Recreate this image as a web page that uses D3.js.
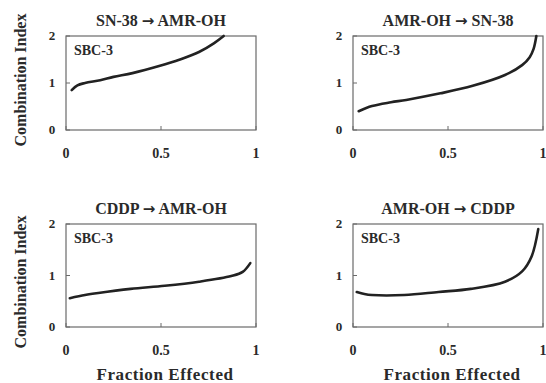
<!DOCTYPE html>
<html>
<head>
<meta charset="utf-8">
<script src="https://cdn.jsdelivr.net/npm/d3@7"></script>
<style>
  body { margin: 0; background: #fff; }
  text { font-family: "Liberation Serif", "Times New Roman", serif; font-weight: bold; fill: #2a2a2a; }
  .arrow { font-family: "DejaVu Sans", sans-serif; }
</style>
</head>
<body>
<div id="chart"></div>
<script>
// panel titles: [drug given first, drug given second]
var titles = [["SN-38", "AMR-OH"], ["AMR-OH", "SN-38"], ["CDDP", "AMR-OH"], ["AMR-OH", "CDDP"]];
var cellLine = "SBC-3";

// fraction affected (x) and combination index (y)
var fa1 = [0.03, 0.06, 0.1, 0.18, 0.25, 0.35, 0.49, 0.6, 0.7, 0.78, 0.83];
var ci1 = [0.85, 0.95, 1.0, 1.06, 1.13, 1.21, 1.36, 1.5, 1.66, 1.85, 2.0];

var fa2 = [0.03, 0.1, 0.2, 0.28, 0.46, 0.63, 0.8, 0.89, 0.93, 0.95, 0.965];
var ci2 = [0.40, 0.51, 0.59, 0.64, 0.78, 0.94, 1.17, 1.38, 1.55, 1.72, 2.0];

var fa3 = [0.02, 0.1, 0.17, 0.34, 0.52, 0.7, 0.87, 0.93, 0.97];
var ci3 = [0.56, 0.62, 0.66, 0.74, 0.8, 0.88, 0.99, 1.07, 1.24];

var fa4 = [0.02, 0.06, 0.1, 0.27, 0.45, 0.62, 0.8, 0.89, 0.94, 0.975];
var ci4 = [0.68, 0.64, 0.62, 0.62, 0.68, 0.74, 0.88, 1.08, 1.37, 1.9];

var xTicks = [0, 0.5, 1];
var xTickLabels = ["0", "0.5", "1"];
var yTicks = [0, 1, 2];

var W = 546, H = 383;
var svg = d3.select("#chart").append("svg")
  .attr("width", W)
  .attr("height", H);

// box positions of the four panels
var cols = [[66, 256], [353, 543]];
var rows = [[36, 130], [224, 327]];

var panels = [
  {fa: fa1, ci: ci1, col: 0, row: 0},
  {fa: fa2, ci: ci2, col: 1, row: 0},
  {fa: fa3, ci: ci3, col: 0, row: 1},
  {fa: fa4, ci: ci4, col: 1, row: 1}
];

panels.forEach(function(p, i) {
  var x = d3.scaleLinear().domain([0, 1]).range(cols[p.col]);
  var y = d3.scaleLinear().domain([0, 2]).range([rows[p.row][1], rows[p.row][0]]);
  var g = svg.append("g");

  // frame
  g.append("rect")
    .attr("x", x(0)).attr("y", y(2))
    .attr("width", x(1) - x(0)).attr("height", y(0) - y(2))
    .attr("fill", "none").attr("stroke", "#6a6a6a").attr("stroke-width", 1.2);

  // small inward ticks
  g.selectAll(".yt").data(yTicks).enter().append("line")
    .attr("x1", x(0)).attr("x2", x(0) + 4)
    .attr("y1", function(d) { return y(d); })
    .attr("y2", function(d) { return y(d); })
    .attr("stroke", "#6a6a6a");
  g.selectAll(".xt").data(xTicks).enter().append("line")
    .attr("x1", function(d) { return x(d); })
    .attr("x2", function(d) { return x(d); })
    .attr("y1", y(0)).attr("y2", y(0) - 4)
    .attr("stroke", "#6a6a6a");

  // tick labels
  g.selectAll(".yl").data(yTicks).enter().append("text")
    .attr("x", x(0) - 14)
    .attr("y", function(d) { return y(d) + 4; })
    .attr("text-anchor", "middle")
    .style("font-size", "13px")
    .text(function(d) { return d; });
  g.selectAll(".xl").data(xTicks).enter().append("text")
    .attr("x", function(d) { return x(d); })
    .attr("y", y(0) + 28)
    .attr("text-anchor", "middle")
    .style("font-size", "14px")
    .text(function(d, k) { return xTickLabels[k]; });

  // title
  var t = g.append("text")
    .attr("x", (x(0) + x(1)) / 2)
    .attr("y", y(2) - 10)
    .attr("text-anchor", "middle")
    .style("font-size", "16px");
  t.append("tspan").text(titles[i][0] + " ");
  t.append("tspan").attr("class", "arrow").style("font-size", "15px").text("\u2192");
  t.append("tspan").text(" " + titles[i][1]);

  // cell line label
  g.append("text")
    .attr("x", x(0) + 8)
    .attr("y", y(2) + 19)
    .style("font-size", "14px")
    .text(cellLine);

  // curve
  var pts = p.fa.map(function(f, k) { return [f, p.ci[k]]; });
  var line = d3.line()
    .x(function(d) { return x(d[0]); })
    .y(function(d) { return y(d[1]); })
    .curve(d3.curveCatmullRom.alpha(0.5));
  g.append("path")
    .datum(pts)
    .attr("d", line)
    .attr("fill", "none")
    .attr("stroke", "#222")
    .attr("stroke-width", 2.6)
    .attr("stroke-linecap", "round");
});

// y axis titles, one per row
[80, 282].forEach(function(cy) {
  svg.append("text")
    .attr("transform", "translate(26," + cy + ") rotate(-90)")
    .attr("text-anchor", "middle")
    .style("font-size", "16px")
    .text("Combination Index");
});

// x axis titles, one per column
[165, 452].forEach(function(cx) {
  svg.append("text")
    .attr("x", cx)
    .attr("y", 380)
    .attr("text-anchor", "middle")
    .style("font-size", "17px")
    .style("letter-spacing", "0.6px")
    .text("Fraction Effected");
});
</script>
</body>
</html>
